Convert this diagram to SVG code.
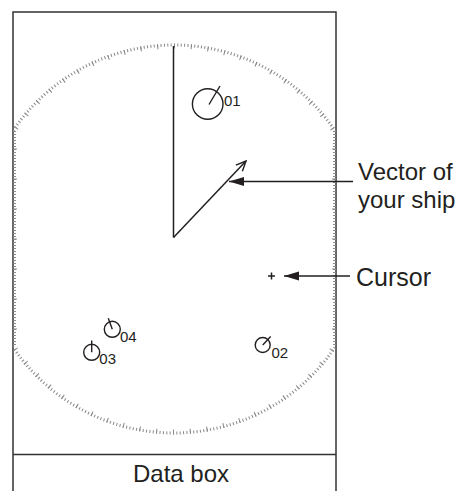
<svg xmlns="http://www.w3.org/2000/svg" width="470" height="491" viewBox="0 0 470 491">
  <style>
    .frame { fill: none; stroke: #333333; stroke-width: 1.5; }
    .line { fill: none; stroke: #231f20; stroke-width: 1.5; }
    .tgt { fill: none; stroke: #231f20; stroke-width: 1.4; }
    .lbl { font-family: "Liberation Sans", Arial, sans-serif; fill: #231f20; }
    .big { font-size: 25px; }
    .num { font-size: 15px; }
    .tick { fill: none; stroke: #8a8a8a; }
  </style>
  <defs>
    <clipPath id="inside">
      <rect x="13" y="12" width="323" height="442"/>
    </clipPath>
    <marker id="solid" markerUnits="userSpaceOnUse" markerWidth="18" markerHeight="12" viewBox="-16 -6 18 12" refX="0" refY="0" orient="auto">
      <path d="M0,0 L-15,-4.5 L-15,4.5 Z" fill="#231f20"/>
    </marker>
    <marker id="open" markerUnits="userSpaceOnUse" markerWidth="14" markerHeight="12" viewBox="-12 -6 14 12" refX="0" refY="0" orient="auto">
      <path d="M-10,-4.5 L0,0 L-10,4.5" fill="none" stroke="#231f20" stroke-width="1.4"/>
    </marker>
  </defs>

  <g id="display">
    <rect class="frame" x="13" y="12" width="323" height="490"/>
    <line class="frame" x1="13" y1="454.5" x2="336" y2="454.5"/>
  </g>

  <g id="range-ring" clip-path="url(#inside)">
    <circle class="tick" cx="174" cy="239" r="194" stroke-width="3" pathLength="360" stroke-dasharray="0.3 0.7"/>
    <circle class="tick" cx="174" cy="239" r="193" stroke-width="5" pathLength="360" stroke-dasharray="0.3 4.7"/>
    <line class="tick" x1="14.5" y1="131" x2="14.5" y2="347" stroke-width="3" stroke-dasharray="1 2"/>
    <line class="tick" x1="15" y1="148.5" x2="15" y2="347" stroke-width="4" stroke-dasharray="1 29" stroke="#555"/>
    <line class="tick" x1="334.5" y1="131" x2="334.5" y2="347" stroke-width="3" stroke-dasharray="1 2"/>
    <line class="tick" x1="334" y1="148.5" x2="334" y2="347" stroke-width="4" stroke-dasharray="1 29" stroke="#555"/>
  </g>

  <g id="heading-line">
    <line class="line" x1="173.5" y1="46" x2="173.5" y2="237.5"/>
  </g>

  <g id="own-ship-vector">
    <line class="line" x1="173.5" y1="237.5" x2="246" y2="161" marker-end="url(#open)"/>
  </g>

  <g id="target-01">
    <circle class="tgt" cx="207.7" cy="104" r="15.3"/>
    <line class="tgt" x1="209" y1="104.5" x2="220" y2="86"/>
    <text class="lbl num" x="224" y="106">01</text>
  </g>
  <g id="target-02">
    <circle class="tgt" cx="262.7" cy="345" r="7.5"/>
    <line class="tgt" x1="262.7" y1="345" x2="270.7" y2="336.5"/>
    <text class="lbl num" x="271.5" y="357.5">02</text>
  </g>
  <g id="target-03">
    <circle class="tgt" cx="91.7" cy="352.3" r="8"/>
    <line class="tgt" x1="91.7" y1="352.3" x2="91.7" y2="340.5"/>
    <text class="lbl num" x="99.3" y="363.5">03</text>
  </g>
  <g id="target-04">
    <circle class="tgt" cx="112.3" cy="329.3" r="8"/>
    <line class="tgt" x1="112.3" y1="329.3" x2="108.3" y2="318.3"/>
    <text class="lbl num" x="120" y="341.5">04</text>
  </g>

  <g id="cursor">
    <line class="line" x1="268" y1="276" x2="275" y2="276" stroke-width="1.3"/>
    <line class="line" x1="271.5" y1="272.5" x2="271.5" y2="279.5" stroke-width="1.3"/>
  </g>

  <g id="connectors">
    <line class="line" x1="353" y1="181.5" x2="229" y2="181.5" marker-end="url(#solid)"/>
    <line class="line" x1="350" y1="276" x2="284" y2="276" marker-end="url(#solid)"/>
  </g>

  <g id="label-vector">
    <text class="lbl" x="358" y="180" font-size="24">Vector of</text>
    <text class="lbl" x="358" y="208" font-size="24">your ship</text>
  </g>
  <g id="label-cursor">
    <text class="lbl big" x="356" y="286">Cursor</text>
  </g>
  <g id="data-box">
    <text class="lbl" x="133" y="482" font-size="24">Data box</text>
  </g>
</svg>
